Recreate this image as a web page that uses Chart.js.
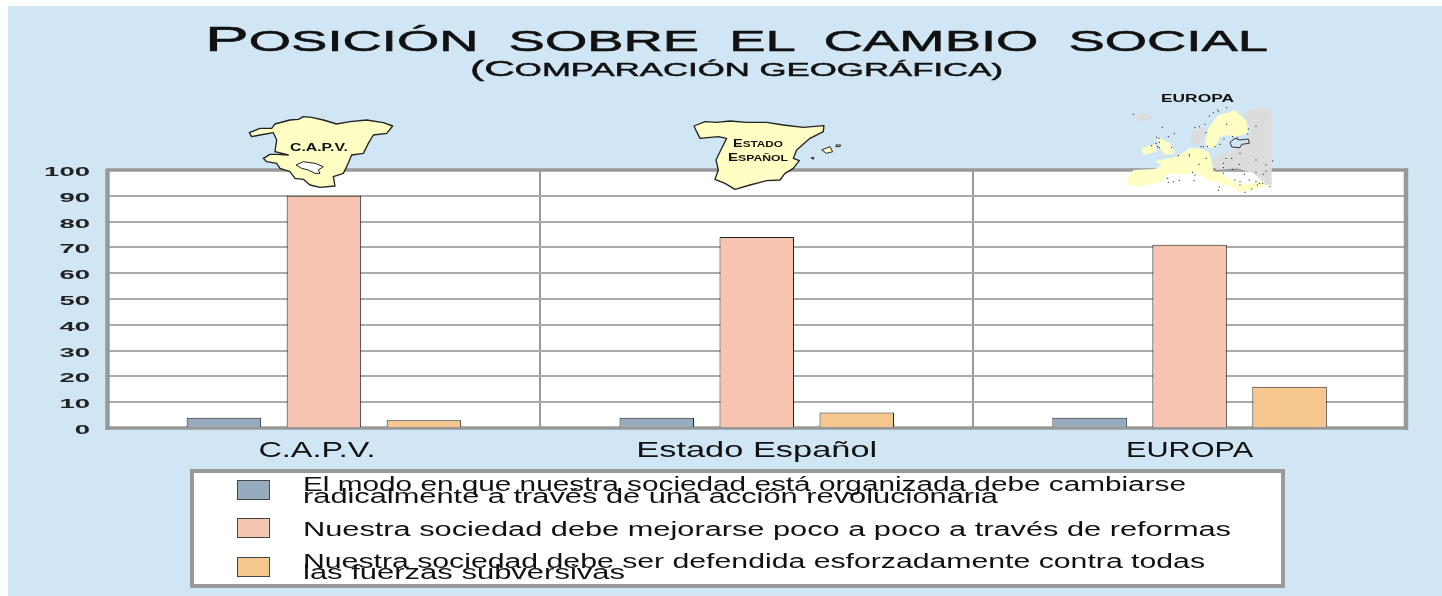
<!DOCTYPE html>
<html lang="es">
<head>
<meta charset="utf-8">
<title>Posición sobre el cambio social</title>
<script src="https://cdn.jsdelivr.net/npm/chart.js@4"></script>
<style>
html,body{margin:0;padding:0;background:#fff;width:1442px;height:596px;overflow:hidden}
#bg{position:absolute;left:8px;top:6px;right:0;bottom:0;background:#D1E6F5}
canvas{position:absolute;left:0;top:0}
svg{position:absolute;left:0;top:0;pointer-events:none}
svg text{font-family:"Liberation Sans",Arial,sans-serif;fill:#111}
</style>
</head>
<body>
<div id="bg"></div>
<canvas id="c" width="1442" height="596"></canvas>
<svg id="o" width="1442" height="596" xmlns="http://www.w3.org/2000/svg"></svg>
<script>
const categories = ["C.A.P.V.", "Estado Español", "EUROPA"];
const cambioRadical = [4, 4, 4];
const reformas = [90, 74, 71];
const defensa = [3, 6, 16];
const seriesNames = [
  "El modo en que nuestra sociedad está organizada debe cambiarse radicalmente a través de una acción revolucionaria",
  "Nuestra sociedad debe mejorarse poco a poco a través de reformas",
  "Nuestra sociedad debe ser defendida esforzadamente contra todas las fuerzas subversivas"
];
const titleText = "Posición sobre el cambio social";
const subtitleText = "(Comparación geográfica)";
const colors = ["#96ACBE", "#F5C5B1", "#F5C78F"];

/* --- label stretching (the reference text is wide-scaled) --- */
const xLabelFit = [{w:117,dx:-7},{w:241,dx:0},{w:127,dx:0}];
const yDigitScale = 2.2;

const stretchLabels = {
  id:'stretchLabels',
  beforeDraw(chart){
    const x = chart.scales.x, y = chart.scales.y;
    x.drawLabels = function(){
      const ctx = chart.ctx;
      ctx.save();
      ctx.font = '22px "Liberation Sans"';
      ctx.fillStyle = '#111';
      ctx.textAlign = 'left';
      ctx.textBaseline = 'alphabetic';
      x.ticks.forEach((t,i)=>{
        const fit = xLabelFit[i], label = categories[i];
        const nat = ctx.measureText(label).width;
        const cx = x.getPixelForTick(i) + fit.dx;
        ctx.save();
        ctx.translate(cx - fit.w/2, 457);
        ctx.scale(fit.w/nat, 1);
        ctx.fillText(label, 0, 0);
        ctx.restore();
      });
      ctx.restore();
    };
    y.drawLabels = function(){
      const ctx = chart.ctx;
      ctx.save();
      ctx.font = 'bold 12.5px "Liberation Sans"';
      ctx.fillStyle = '#222';
      ctx.textAlign = 'right';
      ctx.textBaseline = 'alphabetic';
      y.ticks.forEach((t,i)=>{
        ctx.save();
        ctx.translate(90, y.getPixelForTick(i) + 6);
        ctx.scale(yDigitScale, 1);
        ctx.fillText(String(t.value), 0, 0);
        ctx.restore();
      });
      ctx.restore();
    };
  },
  beforeDatasetsDraw(chart){
    const a = chart.chartArea, ctx = chart.ctx;
    ctx.save();
    ctx.strokeStyle = '#999';
    ctx.lineWidth = 3.4;
    ctx.beginPath();
    ctx.moveTo(a.left, a.top); ctx.lineTo(a.right+2, a.top);
    ctx.moveTo(a.left, a.bottom); ctx.lineTo(a.right+2, a.bottom);
    ctx.stroke();
    ctx.lineWidth = 4.5;
    ctx.beginPath();
    ctx.moveTo(a.left, a.top-1.5); ctx.lineTo(a.left, a.bottom+2);
    ctx.moveTo(a.right, a.top-1.5); ctx.lineTo(a.right, a.bottom+2);
    ctx.stroke();
    ctx.restore();
  }
};
const plotBg = {
  id:'plotBg',
  beforeDraw(chart){
    const a = chart.chartArea, ctx = chart.ctx;
    ctx.save(); ctx.fillStyle = '#fff';
    ctx.fillRect(a.left, a.top, a.right-a.left, a.bottom-a.top);
    ctx.restore();
  }
};

const ds = (label,data,c)=>({label,data,backgroundColor:c,borderColor:'#222',borderWidth:1,
  categoryPercentage:0.693,barPercentage:0.745});

new Chart(document.getElementById('c'),{
  type:'bar',
  data:{labels:categories,datasets:[
    ds(seriesNames[0],cambioRadical,colors[0]),
    ds(seriesNames[1],reformas,colors[1]),
    ds(seriesNames[2],defensa,colors[2])
  ]},
  plugins:[plotBg,stretchLabels],
  options:{
    responsive:false,animation:false,
    layout:{padding:{top:170,right:36,left:0,bottom:0}},
    plugins:{legend:{display:false},title:{display:false},tooltip:{enabled:false}},
    scales:{
      x:{
        grid:{color:'#999',lineWidth:2,drawTicks:false},
        border:{display:false},
        ticks:{maxRotation:0,autoSkip:false,font:{size:22}},
        afterFit(s){s.height=168;}
      },
      y:{
        min:0,max:100,
        grid:{color:'#aaa',lineWidth:2,drawTicks:false},
        border:{display:false},
        ticks:{stepSize:10,font:{size:12}},
        afterFit(s){s.width=107.5;}
      }
    }
  }
});

/* --- overlay: title, legend box and the three decorative maps --- */
const NS = 'http://www.w3.org/2000/svg';
const svg = document.getElementById('o');
function el(name,attrs,parent){
  const e = document.createElementNS(NS,name);
  for(const k in attrs) e.setAttribute(k,attrs[k]);
  (parent||svg).appendChild(e);
  return e;
}
function txt(str,x,y,w,size,extra){
  const t = el('text',Object.assign({x,y,textLength:w,lengthAdjust:'spacingAndGlyphs','font-size':size},extra||{}));
  t.textContent = str;
  return t;
}
function capsText(str,x,y,w,big,small,extra){
  const t = el('text',Object.assign({x,y,textLength:w,lengthAdjust:'spacingAndGlyphs'},extra||{}));
  let run='',isCap=null;
  const flush=()=>{
    if(!run) return;
    const s = el('tspan',{'font-size':isCap?big:small},t);
    if(!isCap) s.style.textTransform='uppercase';
    s.textContent=run; run='';
  };
  for(const ch of str){
    const cap = ch===ch.toUpperCase() && ch!==' ' && ch!=='(' && ch!==')' ? true : (ch==='('||ch===')'||ch===' ' ? isCap===null?true:isCap : false);
    if(cap!==isCap){flush();isCap=cap;}
    run+=ch;
  }
  flush();
  return t;
}
capsText(titleText,205,50.7,1063,35,29,{style:'stroke:#111;stroke-width:.55px;word-spacing:8px'});
capsText(subtitleText,470,76,533,22,18,{style:'stroke:#111;stroke-width:.45px'});

/* legend */
el('rect',{x:192,y:471,width:1091,height:115,fill:'#fff',stroke:'#999','stroke-width':4});
const swatchY=[480,518,557];
swatchY.forEach((y,i)=>el('rect',{x:237.5,y:y+.5,width:32,height:19,fill:colors[i],stroke:'#444','stroke-width':1}));
const legendBreak = [seriesNames[0].indexOf('radicalmente'), -1, seriesNames[2].indexOf('las fuerzas')];
const legendFit = [[[491,883],[503,695]],[[535.5,928]],[[568,902],[579,322]]];
seriesNames.forEach((name,i)=>{
  const b = legendBreak[i];
  const lines = b<0 ? [name] : [name.slice(0,b).trim(), name.slice(b)];
  lines.forEach((ln,j)=>txt(ln,303,legendFit[i][j][0],legendFit[i][j][1],19.5));
});

const yellow='#FFFFC4', grey='#DCDCDC';
function poly(g,pts,fill,stroke,sw){
  el('polygon',{points:pts,fill,stroke:stroke||'none','stroke-width':sw||0,'stroke-linejoin':'round'},g);
}
/* País Vasco */
const g1 = el('g',{transform:'translate(240,110) scale(0.3333)'});
poly(g1,"28,68 60,55 95,55 105,42 150,30 175,28 190,20 215,22 250,30 290,42 330,35 380,30 430,38 458,48 440,70 400,75 385,100 370,130 335,135 320,170 310,190 280,200 285,228 240,232 210,225 190,208 165,205 150,185 120,175 110,160 80,155 70,145 90,133 110,133 145,135 105,125 110,90 100,68 60,75 35,80",yellow,'#222',4);
poly(g1,"168,165 190,155 225,160 250,170 235,180 240,190 225,190 205,180 185,175",'#fff','#222',3);
txt('C.A.P.V.',290,150.5,58,10.5,{'font-weight':'bold'});

/* España */
const g2 = el('g',{transform:'translate(650,90) scale(0.3333)'});
poly(g2,"132,108 165,95 200,97 240,93 290,97 350,97 400,105 460,112 522,107 520,125 480,145 440,180 430,205 448,212 430,235 405,250 390,270 350,272 300,285 255,298 225,280 195,268 205,240 198,210 215,175 230,145 205,140 150,145 140,125",yellow,'#222',4);
poly(g2,"515,180 540,170 548,185 530,190",yellow,'#222',3);
poly(g2,"558,165 572,165 570,170 558,170",yellow,'#222',3);
poly(g2,"483,203 492,203 490,208",yellow,'#222',3);
capsText('Estado',733,147.3,50,10.5,8.5,{'font-weight':'bold'});
capsText('Español',728,160.7,60,10.5,8.5,{'font-weight':'bold'});

/* Europa */
const g3 = el('g',{transform:'translate(1120,85) scale(0.3333)'});
poly(g3,"380,75 450,68 455,95 455,285 430,290 400,265 350,250 290,255 275,225 310,205 340,195 385,160 395,130 370,95",grey);
poly(g3,"430,280 455,280 455,300 435,300",grey);
poly(g3,"40,92 70,85 100,95 85,105 55,108",grey);
poly(g3,"215,140 250,125 255,150 245,175 225,180 212,165",grey);
poly(g3,"255,175 265,130 295,90 320,85 345,75 380,110 385,145 350,155 320,150 300,155 285,185 265,190",yellow);
poly(g3,"110,155 150,175 165,205 135,210 120,190",yellow);
poly(g3,"65,190 105,178 110,200 70,210",yellow);
poly(g3,"40,255 105,252 125,240 105,228 170,215 210,190 235,190 265,200 275,230 280,258 300,265 340,290 360,300 420,290 440,305 395,315 360,320 340,310 300,295 265,285 225,262 195,268 145,265 125,290 60,305 25,300 20,285",yellow);
poly(g3,"330,172 345,160 360,165 385,162 388,175 365,178 360,188 335,186",'none','#333',3);
const mapDots = [[40,88],[127,127],[163,145],[145,155],[110,157],[117,160],[108,175],[118,172],[113,185],[118,188],[95,182],[155,187],[175,212],[208,208],[208,213],[258,220],[237,238],[218,262],[143,280],[178,286],[160,290],[145,292],[225,270],[222,287],[298,306],[295,316],[268,93],[280,83],[293,75],[296,80],[320,68],[255,118],[238,125],[225,128],[258,143],[320,118],[385,132],[383,147],[408,124],[338,155],[352,158],[312,162],[360,205],[243,185],[250,185],[262,185],[285,185],[300,178],[318,220],[335,220],[310,235],[310,248],[358,238],[408,225],[438,240],[458,228],[310,265],[337,253],[373,268],[408,262],[438,258],[430,268],[360,290],[345,285],[360,300],[388,285],[408,290],[418,295],[428,295],[450,305],[412,300],[395,312],[375,322]];
mapDots.forEach(d=>el('rect',{x:d[0]-1.5,y:d[1]-1.5,width:3,height:3,fill:'#000'},g3));
txt('EUROPA',1161,101.7,73,11,{'font-weight':'bold'});
</script>
</body>
</html>
